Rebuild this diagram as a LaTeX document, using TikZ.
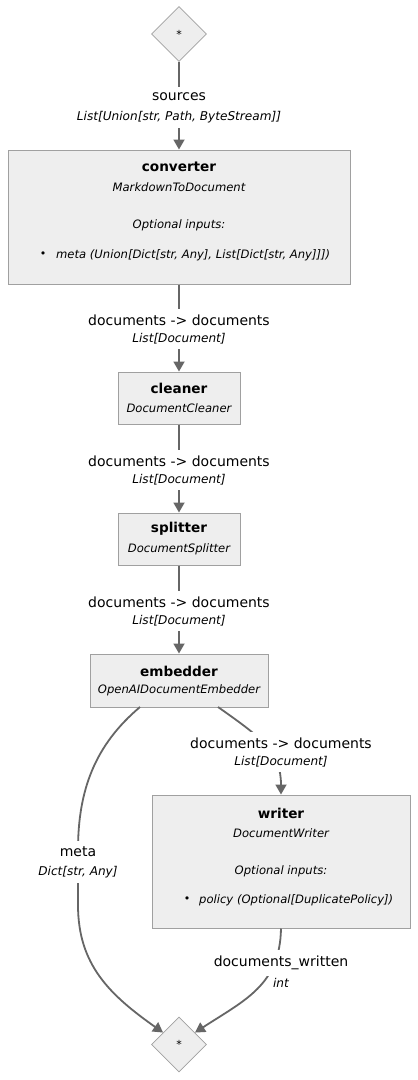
\documentclass[tikz,border=0pt]{standalone}
\usepackage{fontspec}
\setmainfont{DejaVu Sans}
\usetikzlibrary{shapes.geometric,arrows.meta}
\definecolor{boxfill}{HTML}{EEEEEE}
\definecolor{boxline}{HTML}{A0A0A0}
\definecolor{edgecol}{HTML}{666666}
\tikzset{
  comp/.style={draw=boxline,fill=boxfill,line width=1pt,rectangle,inner sep=0pt},
  junction/.style={draw=boxline,fill=boxfill,line width=0.8pt,diamond,inner sep=0pt,minimum width=55pt,minimum height=55pt,font=\fontsize{11}{13}\selectfont},
  ttl/.style={font=\fontsize{13.6}{16}\selectfont\bfseries,inner sep=0pt},
  cls/.style={font=\fontsize{11.6}{14}\selectfont\itshape,inner sep=0pt},
  elab/.style={font=\fontsize{14}{16}\selectfont,fill=white,inner xsep=1pt,inner ysep=6pt},
  etyp/.style={font=\fontsize{12.1}{14}\selectfont\itshape,fill=white,inner xsep=1pt,inner ysep=5pt},
  edge/.style={draw=edgecol,line width=1.8pt,-{Triangle[width=11pt,length=10pt]}},
}
\begin{document}
\begin{tikzpicture}[x=1pt,y=-1pt]
\useasboundingbox[fill=white] (0,0) rectangle (418,1080);
% nodes
\node[junction] (start) at (179,34) {*};
\node[comp,minimum width=342pt,minimum height=134pt] (converter) at (179,217) {};
\node[comp,minimum width=122pt,minimum height=52pt] (cleaner) at (179,398) {};
\node[comp,minimum width=122pt,minimum height=52pt] (splitter) at (179,539) {};
\node[comp,minimum width=178pt,minimum height=53pt] (embedder) at (179,680.5) {};
\node[comp,minimum width=258pt,minimum height=133pt] (writer) at (281,861.5) {};
\node[junction] (end) at (179,1044.5) {*};
% box texts
\node[ttl] (converterT) at (179,167) {converter};
\node[cls] (converterC) at (179,187) {MarkdownToDocument};
\node[cls] (converterO) at (179,225) {Optional inputs:};
\node[cls,anchor=west] (converterI) at (56,255) {meta (Union[Dict[str, Any], List[Dict[str, Any]]])};
\node[font=\fontsize{11}{13}\selectfont,inner sep=0pt] (converterB) at (43,255) {•};
\node[ttl] (cleanerT) at (179,388) {cleaner};
\node[cls] (cleanerC) at (179,408) {DocumentCleaner};
\node[ttl] (splitterT) at (179,529) {splitter};
\node[cls] (splitterC) at (179,549) {DocumentSplitter};
\node[ttl] (embedderT) at (179,671) {embedder};
\node[cls] (embedderC) at (179,690) {OpenAIDocumentEmbedder};
\node[ttl] (writerT) at (281,813) {writer};
\node[cls] (writerC) at (281,833) {DocumentWriter};
\node[cls] (writerO) at (281,871) {Optional inputs:};
\node[cls,anchor=west] (writerI) at (199,900) {policy (Optional[DuplicatePolicy])};
\node[font=\fontsize{11}{13}\selectfont,inner sep=0pt] (writerB) at (187,900) {•};
% edges
\draw[edge] (start.south) -- (converter.north);
\node[elab] (l1a) at (179,97) {sources};
\node[etyp] (l1b) at (179,117) {List[Union[str, Path, ByteStream]]};

\draw[edge] (converter.south) -- (cleaner.north);
\node[elab] (l2a) at (179,320) {documents -> documents};
\node[etyp] (l2b) at (179,339) {List[Document]};

\draw[edge] (cleaner.south) -- (splitter.north);
\node[elab] (l3a) at (179,461) {documents -> documents};
\node[etyp] (l3b) at (179,480) {List[Document]};

\draw[edge] (splitter.south) -- (embedder.north);
\node[elab] (l4a) at (179,602) {documents -> documents};
\node[etyp] (l4b) at (179,621) {List[Document]};

\coordinate (embL) at (140,707);
\coordinate (embR) at (218,707);
\draw[edge] (embR) .. controls (262,738) and (281,752) .. (writer.north);
\node[elab] (l5a) at (281,743) {documents -> documents};
\node[etyp] (l5b) at (281,762) {List[Document]};

\draw[edge] (embL) .. controls (95,745) and (78,790) .. (78,850) -- (78,905) .. controls (78,965) and (110,995) .. ([xshift=-2pt,yshift=-2pt]end.north west);
\node[elab] (l6a) at (78,852) {meta};
\node[etyp] (l6b) at (78,872) {Dict[str, Any]};

\draw[edge] (writer.south) .. controls (280,985) and (245,1000) .. ([xshift=2pt,yshift=-2pt]end.north east);
\node[elab] (l7a) at (281,963) {documents\_written};
\node[etyp] (l7b) at (281,983) {int};
\end{tikzpicture}
\end{document}
